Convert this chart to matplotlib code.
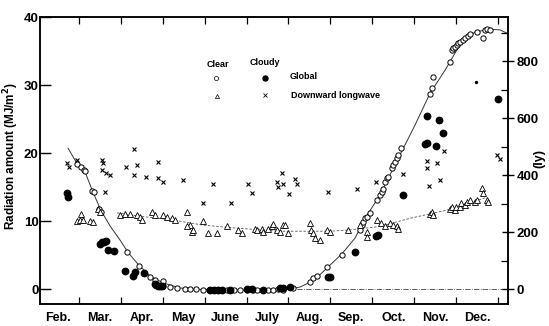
import matplotlib
matplotlib.use("Agg")
import matplotlib.pyplot as plt

plt.rcParams['font.family'] = ['Liberation Sans', 'DejaVu Sans']
plt.rcParams['font.weight'] = 'bold'

# x is in months after 1 Feb (0 = Feb 1, 1 = Mar 1, ...), y in MJ/m2
months = ['Feb.', 'Mar.', 'Apr.', 'May', 'June', 'July', 'Aug.', 'Sep.', 'Oct.', 'Nov.', 'Dec.']

clear_global_x = [0.95, 1.05, 1.12, 1.14, 1.31, 1.36, 1.48, 1.53, 2.15, 2.43, 2.70, 2.81, 3.00, 3.01,
                  3.17, 3.34, 3.53, 3.65, 3.80, 3.96, 4.10, 4.25, 4.40, 4.53, 4.70, 4.84, 5.00, 5.15,
                  5.25, 5.39, 5.50, 5.63, 5.75, 5.87, 6.11, 6.51, 6.59, 6.68, 6.92, 7.28, 7.71, 7.75,
                  7.78, 7.83, 7.87, 7.95, 8.11, 8.18, 8.23, 8.26, 8.30, 8.35, 8.38, 8.47, 8.49, 8.54,
                  8.59, 8.61, 8.69, 9.38, 9.43, 9.45, 9.85, 9.90, 9.93, 9.97, 10.02, 10.05, 10.09,
                  10.17, 10.21, 10.28, 10.33, 10.50, 10.64, 10.69, 10.74, 10.81]
clear_global_y = [18.4, 17.9, 17.5, 17.3, 14.4, 14.3, 11.8, 11.3, 5.4, 3.4, 1.8, 1.3, 1.2, 0.4,
                  0.3, 0.15, 0.0, 0.0, 0.0, -0.2, -0.1, -0.1, -0.1, -0.2, -0.2, -0.1, -0.1, -0.2,
                  -0.1, -0.2, -0.2, -0.1, 0.0, -0.1, 0.2, 1.0, 1.6, 1.9, 3.2, 5.0, 8.7, 9.4,
                  9.9, 10.4, 10.6, 11.2, 13.1, 13.8, 14.3, 14.7, 15.7, 16.3, 16.5, 17.8, 18.2, 18.7,
                  19.3, 19.7, 20.7, 28.7, 29.6, 31.2, 33.4, 35.2, 35.4, 35.6, 35.9, 36.2, 36.3,
                  36.6, 36.9, 37.2, 37.5, 37.8, 36.9, 38.1, 38.2, 38.1]

clear_global_fit_x = [0.74, 0.95, 1.14, 1.33, 1.53, 1.74, 1.98, 2.17, 2.43, 2.70, 3.01, 3.41, 3.89,
                      5.08, 6.04, 6.28, 6.51, 6.75, 6.99, 7.28, 7.59, 7.83, 8.18, 8.66, 9.02, 9.38,
                      9.74, 10.09, 10.45, 10.81, 11.05, 11.22]
clear_global_fit_y = [20.7, 18.5, 17.3, 14.3, 11.5, 9.3, 7.2, 5.4, 3.5, 1.9, 0.9, 0.15, -0.05,
                      -0.15, 0.0, 0.3, 1.0, 2.1, 3.5, 5.2, 7.5, 10.4, 13.8, 19.7, 24.1, 28.8,
                      32.2, 35.9, 37.8, 38.2, 38.1, 37.6]

cloudy_global_x = [0.71, 0.74, 1.50, 1.55, 1.60, 1.64, 1.69, 1.84, 2.10, 2.30, 2.33, 2.56, 2.81,
                   2.85, 2.89, 2.93, 2.98, 4.13, 4.22, 4.32, 4.41, 4.60, 5.01, 5.13, 5.39, 5.80,
                   5.87, 6.04, 6.94, 6.99, 7.60, 8.09, 8.14, 8.73, 9.31, 9.60, 9.69, 9.26, 9.31,
                   9.51, 11.01]
cloudy_global_y = [14.1, 13.5, 6.6, 6.9, 6.9, 7.0, 5.7, 5.6, 2.7, 1.9, 2.5, 2.4, 0.8,
                   0.6, 0.5, 0.4, 0.5, -0.1, -0.1, -0.1, -0.1, -0.1, 0.0, 0.0, -0.1, 0.1,
                   0.1, 0.3, 1.8, 1.7, 5.4, 7.8, 7.9, 13.8, 25.5, 24.8, 23.0, 21.3, 21.4,
                   21.0, 28.0]
stray_dot_x = [10.48]
stray_dot_y = [30.5]

clear_lw_x = [0.95, 1.02, 1.10, 1.26, 1.33, 1.06, 1.46, 1.50, 1.98, 2.10, 2.22, 2.38, 2.46, 2.50,
              2.74, 2.81, 3.01, 3.09, 3.21, 3.29, 3.57, 3.65, 3.69, 3.57, 3.73, 3.97, 4.09, 4.29,
              4.53, 4.80, 4.88, 5.20, 5.24, 5.36, 5.40, 5.52, 5.60, 5.64, 5.72, 5.88, 5.92, 5.80,
              6.00, 6.51, 6.55, 6.59, 6.63, 6.75, 6.91, 6.99, 7.43, 7.71, 7.87, 7.87, 8.11, 8.22,
              8.30, 8.42, 8.50, 8.58, 8.62, 9.38, 9.42, 9.46, 9.85, 9.90, 9.97, 10.01, 10.09,
              10.13, 10.21, 10.25, 10.33, 10.45, 10.49, 10.61, 10.65, 10.73, 10.77]
clear_lw_y = [10.0, 10.1, 10.2, 10.0, 9.9, 11.1, 11.8, 11.3, 10.9, 11.0, 11.1, 10.9, 10.6, 10.2,
              11.3, 10.9, 10.9, 10.6, 10.4, 10.2, 11.4, 9.4, 8.4, 9.2, 8.7, 10.0, 8.2, 8.2,
              9.3, 8.7, 8.2, 8.9, 8.7, 8.9, 8.4, 8.9, 9.2, 9.6, 8.7, 9.4, 9.4, 8.4,
              8.2, 9.7, 8.7, 8.2, 7.5, 7.2, 8.7, 8.4, 8.7, 9.4, 8.4, 7.7, 10.2, 9.7,
              9.3, 9.7, 9.4, 9.2, 8.9, 11.1, 11.4, 10.9, 11.8, 12.1, 11.6, 12.1, 12.1,
              12.6, 12.4, 12.8, 13.1, 12.8, 13.1, 14.8, 14.1, 13.1, 12.8]

clear_lw_fit_x = [1.91, 2.46, 3.24, 3.96, 4.68, 5.32, 5.80, 6.99, 7.47, 8.18, 8.90, 9.78, 10.74]
clear_lw_fit_y = [11.2, 10.7, 10.15, 9.4, 9.0, 8.7, 8.5, 8.5, 8.7, 9.2, 10.4, 11.6, 13.5]

cloudy_lw_x = [0.71, 0.77, 0.95, 1.54, 1.58, 1.54, 1.64, 1.74, 1.62, 2.12, 2.32, 2.38, 2.32, 2.60,
               2.89, 2.89, 3.01, 3.49, 3.97, 4.21, 4.64, 5.04, 5.12, 5.72, 5.84, 5.88, 5.74,
               6.16, 6.20, 6.02, 6.95, 7.63, 8.10, 8.74, 9.30, 9.30, 9.55, 9.35, 9.62, 9.71,
               10.97, 11.05]
cloudy_lw_y = [18.5, 18.0, 19.0, 19.0, 18.6, 17.5, 17.0, 16.8, 14.3, 17.9, 20.6, 18.2, 16.8, 16.5,
               18.7, 16.3, 15.8, 16.0, 12.6, 15.5, 12.6, 15.5, 14.1, 15.8, 17.0, 15.5, 15.0,
               16.2, 15.5, 14.0, 14.2, 14.7, 15.8, 16.9, 18.8, 17.8, 18.5, 15.2, 16.1, 20.3,
               19.7, 19.1]

zero_line_x = [6.0, 11.24]
zero_line_y = [0.0, 0.0]

MJ_PER_LY = 0.04184
xmin, xmax = 0.07, 11.24
ymin, ymax = -2.2, 40.0

W, H = 549, 326
fig = plt.figure(figsize=(W / 100, H / 100), dpi=100)
ax = fig.add_axes([40 / W, (H - 304) / H, 468 / W, 287 / H])

ax.plot(clear_global_fit_x, clear_global_fit_y, '-', color='#333333', lw=0.7, zorder=2)
ax.plot(clear_lw_fit_x, clear_lw_fit_y, '--', color='#555555', lw=0.6, dashes=(3, 2), zorder=2)
ax.plot(zero_line_x, zero_line_y, '-.', color='#444444', lw=0.6, zorder=1)

ax.plot(clear_global_x, clear_global_y, 'o', ms=3.8, mfc='white', mec='black', mew=0.7, zorder=3)
ax.plot(cloudy_global_x, cloudy_global_y, 'o', ms=4.6, mfc='black', mec='black', zorder=3)
ax.plot(stray_dot_x, stray_dot_y, 'o', ms=1.4, color='black', zorder=3)
ax.plot(clear_lw_x, clear_lw_y, '^', ms=3.8, mfc='white', mec='black', mew=0.6, zorder=3)
ax.plot(cloudy_lw_x, cloudy_lw_y, 'x', ms=3.0, color='black', mew=0.8, zorder=3)

ax.set_xlim(xmin, xmax)
ax.set_ylim(ymin, ymax)
ax.set_xticks(range(1, 12))
ax.set_xticklabels([])
ax.set_xticks([i + 0.5 for i in range(len(months))], minor=True)
ax.set_xticklabels(months, minor=True, fontsize=9, fontweight='bold')
ax.tick_params(axis='x', which='major', direction='in', length=5, width=0.9, top=True)
ax.tick_params(axis='x', which='minor', length=0, pad=6)
ax.set_yticks([0, 10, 20, 30, 40])
ax.set_yticklabels(['0', '10', '20', '30', '40'], fontsize=9.5, fontweight='bold')
ax.tick_params(axis='y', which='major', direction='in', length=8, width=1.0, pad=1)
for s in ax.spines.values():
    s.set_linewidth(1.1)

ax2 = ax.twinx()
ax2.set_ylim(ymin / MJ_PER_LY, ymax / MJ_PER_LY)
ax2.set_yticks([0, 200, 400, 600, 800])
ax2.set_yticklabels(['0', '200', '400', '600', '800'], fontsize=9.5, fontweight='bold')
ax2.set_yticks([100, 300, 500, 700, 900], minor=True)
ax2.tick_params(axis='y', which='major', direction='inout', length=8, width=1.0, pad=2)
ax2.tick_params(axis='y', which='minor', direction='in', length=5, width=0.9)
for s in ax2.spines.values():
    s.set_linewidth(1.1)

fig.text(11 / W, 1 - 156 / H, 'Radiation amount (MJ/m$^2$)', rotation=90, ha='center', va='center',
         fontsize=8.5, fontweight='bold')
fig.text(539 / W, 1 - 158 / H, '(ly)', rotation=90, ha='center', va='center',
         fontsize=9, fontweight='bold')

# legend block
ax.text(0.380, 0.836, 'Clear', transform=ax.transAxes, ha='center', va='center', fontsize=6.5)
ax.text(0.481, 0.840, 'Cloudy', transform=ax.transAxes, ha='center', va='center', fontsize=6.5)
ax.plot([0.376], [0.787], 'o', transform=ax.transAxes, ms=3.0, mfc='white', mec='black', mew=0.5)
ax.plot([0.481], [0.787], 'o', transform=ax.transAxes, ms=3.6, color='black')
ax.plot([0.378], [0.725], '^', transform=ax.transAxes, ms=3.0, mfc='white', mec='black', mew=0.5)
ax.plot([0.481], [0.728], 'x', transform=ax.transAxes, ms=2.4, color='black', mew=0.6)
ax.text(0.534, 0.791, 'Global', transform=ax.transAxes, ha='left', va='center', fontsize=6.5)
ax.text(0.537, 0.725, 'Downward longwave', transform=ax.transAxes, ha='left', va='center',
        fontsize=6.5)

fig.savefig('out.png', dpi=100)
